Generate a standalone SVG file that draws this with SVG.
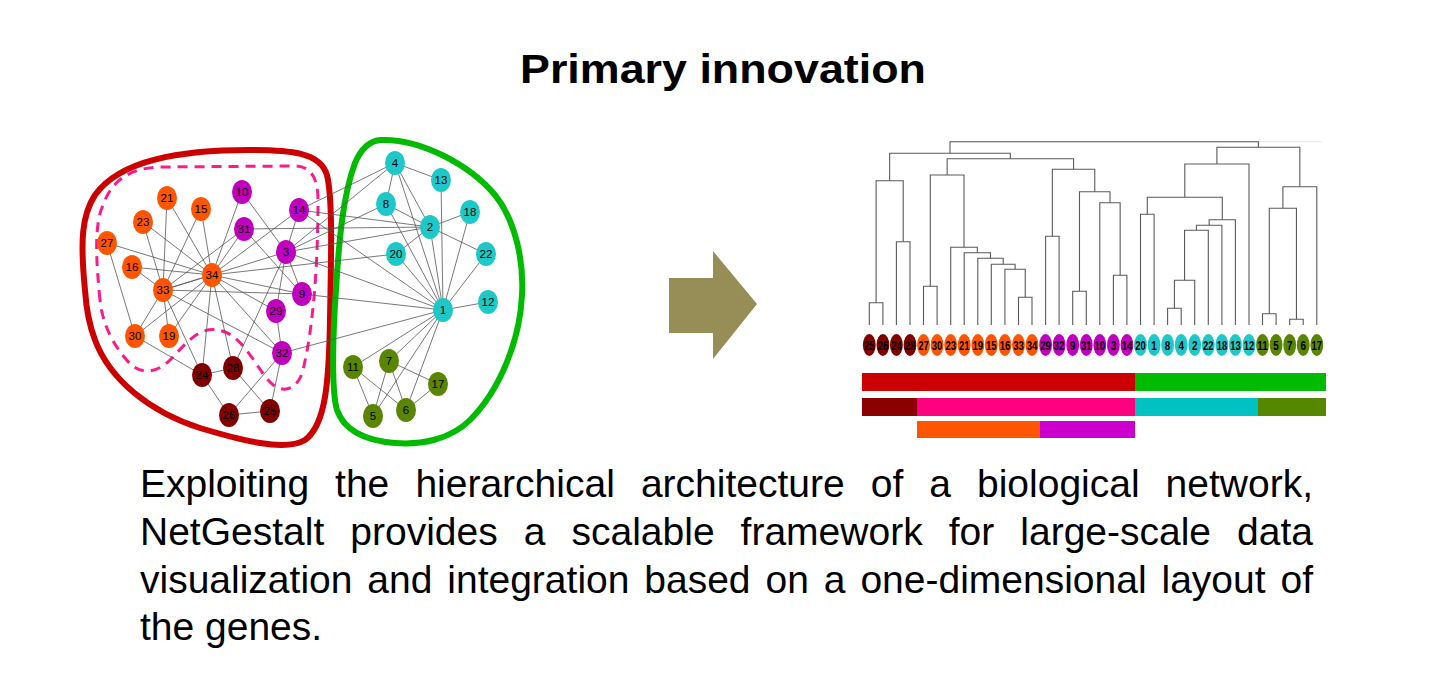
<svg xmlns="http://www.w3.org/2000/svg" width="1440" height="685" viewBox="0 0 1440 685">
<style>
.t{font-family:"Liberation Sans",Arial,sans-serif;fill:#000}
.body{font-size:39px}
.e line{stroke:#555;stroke-width:0.8}
.nl{font-family:"Liberation Sans",Arial,sans-serif;font-size:11.5px;text-anchor:middle;fill:#000}
.ll{font-family:"Liberation Sans",Arial,sans-serif;font-size:13px;font-weight:bold;text-anchor:middle;fill:#000}
.or{fill:#ff5500}.mg{fill:#bf00bf}.cy{fill:#1ec8c8}.dr{fill:#800000}.ol{fill:#5a8500}
.dg path{fill:none;stroke:#5a5a5a;stroke-width:1.1}
</style>
<rect width="1440" height="685" fill="#fff"/>
<text class="t" x="520" y="83" font-size="40" font-weight="bold" textLength="406" lengthAdjust="spacingAndGlyphs">Primary innovation</text>

<!-- cluster outlines -->
<g id="outlines" fill="none">
<path d="M85,290 C80,240 82,215 95,195 C120,160 180,150 250,150 C290,150 320,152 327,175 C333,200 331,260 330,320 C329,380 326,425 305,440 C285,452 240,440 200,428 C150,412 110,380 95,340 C88,322 86,305 85,290 Z" stroke="#cc0000" stroke-width="6"/>
<path d="M100,300 C96,260 94,225 103,205 C112,180 130,168 160,167 L295,166 C312,166 318,180 318,200 C318,250 315,320 303,370 C298,390 282,395 270,382 C258,370 245,340 225,332 C200,322 185,345 170,360 C158,372 140,378 125,358 C110,340 102,320 100,300 Z" stroke="#ff1a8c" stroke-width="3" stroke-dasharray="10,7"/>
<path d="M380,140 C420,138 470,165 495,195 C515,220 524,260 522,295 C520,340 500,390 470,420 C450,440 420,445 395,443 C370,441 345,433 337,410 C331,390 333,330 336,290 C339,240 343,195 355,163 C361,149 370,141 380,140 Z" stroke="#00bb00" stroke-width="6"/>
</g>

<g id="connectors" class="e">
<line x1="443" y1="310" x2="430" y2="227"/><line x1="443" y1="310" x2="286" y2="252"/><line x1="443" y1="310" x2="395" y2="163"/><line x1="443" y1="310" x2="373" y2="416"/>
<line x1="443" y1="310" x2="406" y2="410"/><line x1="443" y1="310" x2="389" y2="361"/><line x1="443" y1="310" x2="386" y2="204"/><line x1="443" y1="310" x2="302" y2="294"/>
<line x1="443" y1="310" x2="353" y2="367"/><line x1="443" y1="310" x2="488" y2="302"/><line x1="443" y1="310" x2="441" y2="180"/><line x1="443" y1="310" x2="299" y2="210"/>
<line x1="443" y1="310" x2="470" y2="212"/><line x1="443" y1="310" x2="396" y2="254"/><line x1="443" y1="310" x2="486" y2="254"/><line x1="443" y1="310" x2="282" y2="353"/>
<line x1="430" y1="227" x2="286" y2="252"/><line x1="430" y1="227" x2="395" y2="163"/><line x1="430" y1="227" x2="386" y2="204"/><line x1="430" y1="227" x2="299" y2="210"/>
<line x1="430" y1="227" x2="470" y2="212"/><line x1="430" y1="227" x2="396" y2="254"/><line x1="430" y1="227" x2="486" y2="254"/><line x1="430" y1="227" x2="244" y2="229"/>
<line x1="286" y1="252" x2="395" y2="163"/><line x1="286" y1="252" x2="386" y2="204"/><line x1="286" y1="252" x2="302" y2="294"/><line x1="286" y1="252" x2="242" y2="192"/>
<line x1="286" y1="252" x2="299" y2="210"/><line x1="286" y1="252" x2="233" y2="368"/><line x1="286" y1="252" x2="276" y2="311"/><line x1="286" y1="252" x2="163" y2="290"/>
<line x1="395" y1="163" x2="386" y2="204"/><line x1="395" y1="163" x2="441" y2="180"/><line x1="395" y1="163" x2="299" y2="210"/>
<line x1="373" y1="416" x2="389" y2="361"/><line x1="373" y1="416" x2="353" y2="367"/>
<line x1="406" y1="410" x2="389" y2="361"/><line x1="406" y1="410" x2="353" y2="367"/><line x1="406" y1="410" x2="438" y2="384"/>
<line x1="389" y1="361" x2="438" y2="384"/>
<line x1="302" y1="294" x2="244" y2="229"/><line x1="302" y1="294" x2="163" y2="290"/><line x1="302" y1="294" x2="212" y2="275"/>
<line x1="242" y1="192" x2="212" y2="275"/><line x1="299" y1="210" x2="212" y2="275"/>
<line x1="201" y1="209" x2="163" y2="290"/><line x1="201" y1="209" x2="212" y2="275"/>
<line x1="132" y1="267" x2="163" y2="290"/><line x1="132" y1="267" x2="212" y2="275"/>
<line x1="169" y1="336" x2="163" y2="290"/><line x1="169" y1="336" x2="212" y2="275"/>
<line x1="396" y1="254" x2="212" y2="275"/>
<line x1="167" y1="198" x2="163" y2="290"/><line x1="167" y1="198" x2="212" y2="275"/>
<line x1="143" y1="222" x2="163" y2="290"/><line x1="143" y1="222" x2="212" y2="275"/>
<line x1="202" y1="375" x2="229" y2="415"/><line x1="202" y1="375" x2="233" y2="368"/><line x1="202" y1="375" x2="135" y2="336"/><line x1="202" y1="375" x2="163" y2="290"/><line x1="202" y1="375" x2="212" y2="275"/>
<line x1="270" y1="411" x2="229" y2="415"/><line x1="270" y1="411" x2="233" y2="368"/><line x1="270" y1="411" x2="282" y2="353"/>
<line x1="229" y1="415" x2="282" y2="353"/>
<line x1="107" y1="243" x2="135" y2="336"/><line x1="107" y1="243" x2="212" y2="275"/>
<line x1="233" y1="368" x2="212" y2="275"/>
<line x1="276" y1="311" x2="282" y2="353"/><line x1="276" y1="311" x2="212" y2="275"/>
<line x1="135" y1="336" x2="163" y2="290"/><line x1="135" y1="336" x2="212" y2="275"/>
<line x1="244" y1="229" x2="163" y2="290"/><line x1="244" y1="229" x2="212" y2="275"/>
<line x1="282" y1="353" x2="163" y2="290"/><line x1="282" y1="353" x2="212" y2="275"/>
<line x1="163" y1="290" x2="212" y2="275"/>
</g>

<g id="n1"><ellipse class="cy" cx="443" cy="310" rx="10" ry="12"/><text class="nl" x="443" y="314">1</text></g>
<g id="n2"><ellipse class="cy" cx="430" cy="227" rx="10" ry="12"/><text class="nl" x="430" y="231">2</text></g>
<g id="n3"><ellipse class="mg" cx="286" cy="252" rx="10" ry="12"/><text class="nl" x="286" y="256">3</text></g>
<g id="n4"><ellipse class="cy" cx="395" cy="163" rx="10" ry="12"/><text class="nl" x="395" y="167">4</text></g>
<g id="n5"><ellipse class="ol" cx="373" cy="416" rx="10" ry="12"/><text class="nl" x="373" y="420">5</text></g>
<g id="n6"><ellipse class="ol" cx="406" cy="410" rx="10" ry="12"/><text class="nl" x="406" y="414">6</text></g>
<g id="n7"><ellipse class="ol" cx="389" cy="361" rx="10" ry="12"/><text class="nl" x="389" y="365">7</text></g>
<g id="n8"><ellipse class="cy" cx="386" cy="204" rx="10" ry="12"/><text class="nl" x="386" y="208">8</text></g>
<g id="n9"><ellipse class="mg" cx="302" cy="294" rx="10" ry="12"/><text class="nl" x="302" y="298">9</text></g>
<g id="n10"><ellipse class="mg" cx="242" cy="192" rx="10" ry="12"/><text class="nl" x="242" y="196">10</text></g>
<g id="n11"><ellipse class="ol" cx="353" cy="367" rx="10" ry="12"/><text class="nl" x="353" y="371">11</text></g>
<g id="n12"><ellipse class="cy" cx="488" cy="302" rx="10" ry="12"/><text class="nl" x="488" y="306">12</text></g>
<g id="n13"><ellipse class="cy" cx="441" cy="180" rx="10" ry="12"/><text class="nl" x="441" y="184">13</text></g>
<g id="n14"><ellipse class="mg" cx="299" cy="210" rx="10" ry="12"/><text class="nl" x="299" y="214">14</text></g>
<g id="n15"><ellipse class="or" cx="201" cy="209" rx="10" ry="12"/><text class="nl" x="201" y="213">15</text></g>
<g id="n16"><ellipse class="or" cx="132" cy="267" rx="10" ry="12"/><text class="nl" x="132" y="271">16</text></g>
<g id="n17"><ellipse class="ol" cx="438" cy="384" rx="10" ry="12"/><text class="nl" x="438" y="388">17</text></g>
<g id="n18"><ellipse class="cy" cx="470" cy="212" rx="10" ry="12"/><text class="nl" x="470" y="216">18</text></g>
<g id="n19"><ellipse class="or" cx="169" cy="336" rx="10" ry="12"/><text class="nl" x="169" y="340">19</text></g>
<g id="n20"><ellipse class="cy" cx="396" cy="254" rx="10" ry="12"/><text class="nl" x="396" y="258">20</text></g>
<g id="n21"><ellipse class="or" cx="167" cy="198" rx="10" ry="12"/><text class="nl" x="167" y="202">21</text></g>
<g id="n22"><ellipse class="cy" cx="486" cy="254" rx="10" ry="12"/><text class="nl" x="486" y="258">22</text></g>
<g id="n23"><ellipse class="or" cx="143" cy="222" rx="10" ry="12"/><text class="nl" x="143" y="226">23</text></g>
<g id="n24"><ellipse class="dr" cx="202" cy="375" rx="10" ry="12"/><text class="nl" x="202" y="379">24</text></g>
<g id="n25"><ellipse class="dr" cx="270" cy="411" rx="10" ry="12"/><text class="nl" x="270" y="415">25</text></g>
<g id="n26"><ellipse class="dr" cx="229" cy="415" rx="10" ry="12"/><text class="nl" x="229" y="419">26</text></g>
<g id="n27"><ellipse class="or" cx="107" cy="243" rx="10" ry="12"/><text class="nl" x="107" y="247">27</text></g>
<g id="n28"><ellipse class="dr" cx="233" cy="368" rx="10" ry="12"/><text class="nl" x="233" y="372">28</text></g>
<g id="n29"><ellipse class="mg" cx="276" cy="311" rx="10" ry="12"/><text class="nl" x="276" y="315">29</text></g>
<g id="n30"><ellipse class="or" cx="135" cy="336" rx="10" ry="12"/><text class="nl" x="135" y="340">30</text></g>
<g id="n31"><ellipse class="mg" cx="244" cy="229" rx="10" ry="12"/><text class="nl" x="244" y="233">31</text></g>
<g id="n32"><ellipse class="mg" cx="282" cy="353" rx="10" ry="12"/><text class="nl" x="282" y="357">32</text></g>
<g id="n33"><ellipse class="or" cx="163" cy="290" rx="10" ry="12"/><text class="nl" x="163" y="294">33</text></g>
<g id="n34"><ellipse class="or" cx="212" cy="275" rx="10" ry="12"/><text class="nl" x="212" y="279">34</text></g>

<g id="arrow"><polygon points="669,278 713,278 713,251 757,304 713,359 713,333 669,333" fill="#978d56"/></g>

<g id="dendrogram" class="dg">
<path d="M950,141.7 H1322" style="stroke:#e6e6e6"/>
<path d="M869.3,325 V302.7 H882.9 V325"/>
<path d="M896.4,325 V241.7 H910 V325"/>
<path d="M876.1,302.7 V180.7 H903.2 V241.7"/>
<path d="M923.5,325 V286.3 H937.1 V325"/>
<path d="M1018.5,325 V297.3 H1032 V325"/>
<path d="M1004.9,325 V269.3 H1025.25 V297.3"/>
<path d="M991.3,325 V264.3 H1015.1 V269.3"/>
<path d="M977.8,325 V258.3 H1003.2 V264.3"/>
<path d="M964.2,325 V252.7 H990.5 V258.3"/>
<path d="M950.7,325 V247.3 H977.35 V252.7"/>
<path d="M930.3,286.3 V175 H964 V247.3"/>
<path d="M1045.6,325 V236.3 H1059.1 V325"/>
<path d="M1072.7,325 V291.3 H1086.3 V325"/>
<path d="M1113.4,325 V275.3 H1126.9 V325"/>
<path d="M1099.8,325 V202.7 H1120.15 V275.3"/>
<path d="M1079.5,291.3 V191.7 H1110 V202.7"/>
<path d="M1052.35,236.3 V169.3 H1094.75 V191.7"/>
<path d="M947.15,175 V158.7 H1073.55 V169.3"/>
<path d="M889.65,180.7 V153.3 H1010.35 V158.7"/>
<path d="M1140.5,325 V214.3 H1154.1 V325"/>
<path d="M1167.6,325 V308.3 H1181.2 V325"/>
<path d="M1174.4,308.3 V280.3 H1194.7 V325"/>
<path d="M1184.55,280.3 V230.3 H1208.3 V325"/>
<path d="M1196.4,230.3 V225.3 H1221.9 V325"/>
<path d="M1209.15,225.3 V219.7 H1235.4 V325"/>
<path d="M1147.3,214.3 V197.3 H1222.3 V219.7"/>
<path d="M1184.8,197.3 V164 H1249 V325"/>
<path d="M1262.5,325 V313.7 H1276.1 V325"/>
<path d="M1289.7,325 V319.3 H1303.2 V325"/>
<path d="M1269.3,313.7 V208.3 H1296.45 V319.3"/>
<path d="M1282.9,208.3 V186.7 H1316.8 V325"/>
<path d="M1216.9,164 V147.3 H1299.85 V186.7"/>
<path d="M950,153.3 V141.7 H1258.4 V147.3"/>
</g>

<g id="leaves">
<g id="l25"><ellipse class="dr" cx="869.3" cy="345" rx="6.4" ry="11"/><text class="ll" x="869.3" y="349.7" textLength="10.5" lengthAdjust="spacingAndGlyphs">25</text></g>
<g id="l26"><ellipse class="dr" cx="882.9" cy="345" rx="6.4" ry="11"/><text class="ll" x="882.9" y="349.7" textLength="10.5" lengthAdjust="spacingAndGlyphs">26</text></g>
<g id="l24"><ellipse class="dr" cx="896.4" cy="345" rx="6.4" ry="11"/><text class="ll" x="896.4" y="349.7" textLength="10.5" lengthAdjust="spacingAndGlyphs">24</text></g>
<g id="l28"><ellipse class="dr" cx="910" cy="345" rx="6.4" ry="11"/><text class="ll" x="910" y="349.7" textLength="10.5" lengthAdjust="spacingAndGlyphs">28</text></g>
<g id="l27"><ellipse class="or" cx="923.5" cy="345" rx="6.4" ry="11"/><text class="ll" x="923.5" y="349.7" textLength="10.5" lengthAdjust="spacingAndGlyphs">27</text></g>
<g id="l30"><ellipse class="or" cx="937.1" cy="345" rx="6.4" ry="11"/><text class="ll" x="937.1" y="349.7" textLength="10.5" lengthAdjust="spacingAndGlyphs">30</text></g>
<g id="l23"><ellipse class="or" cx="950.7" cy="345" rx="6.4" ry="11"/><text class="ll" x="950.7" y="349.7" textLength="10.5" lengthAdjust="spacingAndGlyphs">23</text></g>
<g id="l21"><ellipse class="or" cx="964.2" cy="345" rx="6.4" ry="11"/><text class="ll" x="964.2" y="349.7" textLength="10.5" lengthAdjust="spacingAndGlyphs">21</text></g>
<g id="l19"><ellipse class="or" cx="977.8" cy="345" rx="6.4" ry="11"/><text class="ll" x="977.8" y="349.7" textLength="10.5" lengthAdjust="spacingAndGlyphs">19</text></g>
<g id="l15"><ellipse class="or" cx="991.3" cy="345" rx="6.4" ry="11"/><text class="ll" x="991.3" y="349.7" textLength="10.5" lengthAdjust="spacingAndGlyphs">15</text></g>
<g id="l16"><ellipse class="or" cx="1004.9" cy="345" rx="6.4" ry="11"/><text class="ll" x="1004.9" y="349.7" textLength="10.5" lengthAdjust="spacingAndGlyphs">16</text></g>
<g id="l33"><ellipse class="or" cx="1018.5" cy="345" rx="6.4" ry="11"/><text class="ll" x="1018.5" y="349.7" textLength="10.5" lengthAdjust="spacingAndGlyphs">33</text></g>
<g id="l34"><ellipse class="or" cx="1032" cy="345" rx="6.4" ry="11"/><text class="ll" x="1032" y="349.7" textLength="10.5" lengthAdjust="spacingAndGlyphs">34</text></g>
<g id="l29"><ellipse class="mg" cx="1045.6" cy="345" rx="6.4" ry="11"/><text class="ll" x="1045.6" y="349.7" textLength="10.5" lengthAdjust="spacingAndGlyphs">29</text></g>
<g id="l32"><ellipse class="mg" cx="1059.1" cy="345" rx="6.4" ry="11"/><text class="ll" x="1059.1" y="349.7" textLength="10.5" lengthAdjust="spacingAndGlyphs">32</text></g>
<g id="l9"><ellipse class="mg" cx="1072.7" cy="345" rx="6.4" ry="11"/><text class="ll" x="1072.7" y="349.7" textLength="5.5" lengthAdjust="spacingAndGlyphs">9</text></g>
<g id="l31"><ellipse class="mg" cx="1086.3" cy="345" rx="6.4" ry="11"/><text class="ll" x="1086.3" y="349.7" textLength="10.5" lengthAdjust="spacingAndGlyphs">31</text></g>
<g id="l10"><ellipse class="mg" cx="1099.8" cy="345" rx="6.4" ry="11"/><text class="ll" x="1099.8" y="349.7" textLength="10.5" lengthAdjust="spacingAndGlyphs">10</text></g>
<g id="l3"><ellipse class="mg" cx="1113.4" cy="345" rx="6.4" ry="11"/><text class="ll" x="1113.4" y="349.7" textLength="5.5" lengthAdjust="spacingAndGlyphs">3</text></g>
<g id="l14"><ellipse class="mg" cx="1126.9" cy="345" rx="6.4" ry="11"/><text class="ll" x="1126.9" y="349.7" textLength="10.5" lengthAdjust="spacingAndGlyphs">14</text></g>
<g id="l20"><ellipse class="cy" cx="1140.5" cy="345" rx="6.4" ry="11"/><text class="ll" x="1140.5" y="349.7" textLength="10.5" lengthAdjust="spacingAndGlyphs">20</text></g>
<g id="l1"><ellipse class="cy" cx="1154.1" cy="345" rx="6.4" ry="11"/><text class="ll" x="1154.1" y="349.7" textLength="5.5" lengthAdjust="spacingAndGlyphs">1</text></g>
<g id="l8"><ellipse class="cy" cx="1167.6" cy="345" rx="6.4" ry="11"/><text class="ll" x="1167.6" y="349.7" textLength="5.5" lengthAdjust="spacingAndGlyphs">8</text></g>
<g id="l4"><ellipse class="cy" cx="1181.2" cy="345" rx="6.4" ry="11"/><text class="ll" x="1181.2" y="349.7" textLength="5.5" lengthAdjust="spacingAndGlyphs">4</text></g>
<g id="l2"><ellipse class="cy" cx="1194.7" cy="345" rx="6.4" ry="11"/><text class="ll" x="1194.7" y="349.7" textLength="5.5" lengthAdjust="spacingAndGlyphs">2</text></g>
<g id="l22"><ellipse class="cy" cx="1208.3" cy="345" rx="6.4" ry="11"/><text class="ll" x="1208.3" y="349.7" textLength="10.5" lengthAdjust="spacingAndGlyphs">22</text></g>
<g id="l18"><ellipse class="cy" cx="1221.9" cy="345" rx="6.4" ry="11"/><text class="ll" x="1221.9" y="349.7" textLength="10.5" lengthAdjust="spacingAndGlyphs">18</text></g>
<g id="l13"><ellipse class="cy" cx="1235.4" cy="345" rx="6.4" ry="11"/><text class="ll" x="1235.4" y="349.7" textLength="10.5" lengthAdjust="spacingAndGlyphs">13</text></g>
<g id="l12"><ellipse class="cy" cx="1249" cy="345" rx="6.4" ry="11"/><text class="ll" x="1249" y="349.7" textLength="10.5" lengthAdjust="spacingAndGlyphs">12</text></g>
<g id="l11"><ellipse class="ol" cx="1262.5" cy="345" rx="6.4" ry="11"/><text class="ll" x="1262.5" y="349.7" textLength="10.5" lengthAdjust="spacingAndGlyphs">11</text></g>
<g id="l5"><ellipse class="ol" cx="1276.1" cy="345" rx="6.4" ry="11"/><text class="ll" x="1276.1" y="349.7" textLength="5.5" lengthAdjust="spacingAndGlyphs">5</text></g>
<g id="l7"><ellipse class="ol" cx="1289.7" cy="345" rx="6.4" ry="11"/><text class="ll" x="1289.7" y="349.7" textLength="5.5" lengthAdjust="spacingAndGlyphs">7</text></g>
<g id="l6"><ellipse class="ol" cx="1303.2" cy="345" rx="6.4" ry="11"/><text class="ll" x="1303.2" y="349.7" textLength="5.5" lengthAdjust="spacingAndGlyphs">6</text></g>
<g id="l17"><ellipse class="ol" cx="1316.8" cy="345" rx="6.4" ry="11"/><text class="ll" x="1316.8" y="349.7" textLength="10.5" lengthAdjust="spacingAndGlyphs">17</text></g>
</g>

<g id="bars">
<rect x="862" y="373" width="273" height="18" fill="#cc0000"/>
<rect x="1135" y="373" width="191" height="18" fill="#00bb00"/>
<rect x="862" y="398" width="55" height="18" fill="#8b0000"/>
<rect x="917" y="398" width="218" height="18" fill="#ff0080"/>
<rect x="1135" y="398" width="123" height="18" fill="#00c2c2"/>
<rect x="1258" y="398" width="68" height="18" fill="#558800"/>
<rect x="917" y="421" width="123" height="17" fill="#ff5500"/>
<rect x="1040" y="421" width="95" height="17" fill="#cc00cc"/>
</g>

<g id="caption" class="t body">
<text y="497"><tspan x="140">Exploiting</tspan><tspan x="335.1">the</tspan><tspan x="415.4">hierarchical</tspan><tspan x="640.9">architecture</tspan><tspan x="870.7">of</tspan><tspan x="929.3">a</tspan><tspan x="977">biological</tspan><tspan x="1165.6">network,</tspan></text>
<text y="545"><tspan x="140">NetGestalt</tspan><tspan x="350.3">provides</tspan><tspan x="523.8">a</tspan><tspan x="571.5">scalable</tspan><tspan x="740.6">framework</tspan><tspan x="948.7">for</tspan><tspan x="1020.3">large-scale</tspan><tspan x="1237.1">data</tspan></text>
<text y="592.5"><tspan x="140">visualization</tspan><tspan x="367.3">and</tspan><tspan x="447.3">integration</tspan><tspan x="644.3">based</tspan><tspan x="765.5">on</tspan><tspan x="823.8">a</tspan><tspan x="860.4">one-dimensional</tspan><tspan x="1161.5">layout</tspan><tspan x="1280.5">of</tspan></text>
<text x="140" y="640">the genes.</text>
</g>
</svg>
